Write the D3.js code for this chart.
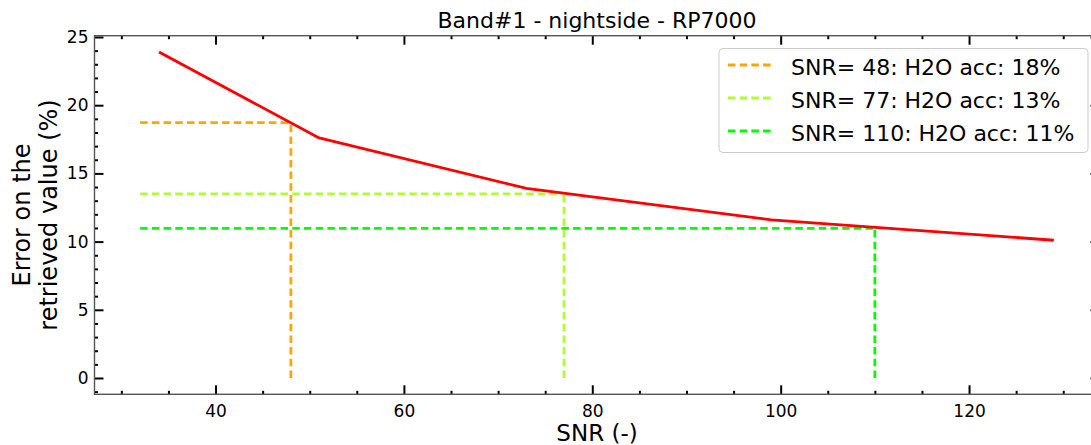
<!DOCTYPE html>
<html>
<head>
<meta charset="utf-8">
<script src="https://cdn.jsdelivr.net/npm/d3@7"></script>
<style>
  html, body { margin: 0; padding: 0; background: #fff; }
  svg { display: block; font-family: "DejaVu Sans", sans-serif; }
</style>
</head>
<body>
<svg id="chart" width="1091" height="445"></svg>
<script>
// Retrieval error curve versus SNR
const snr = [34, 51, 73, 99, 129];
const err = [23.9, 17.6, 13.9, 11.6, 10.1];

// Selected operating points (SNR, error read on the curve)
const markSnr = [48, 77, 110];
const markErr = [18.72, 13.5, 10.97];
const markColors = ["#FFA500", "#ADFF2F", "#00FF00"];
const markLabels = [
  "SNR= 48: H2O acc: 18%",
  "SNR= 77: H2O acc: 13%",
  "SNR= 110: H2O acc: 11%"
];
const guideStart = 32;

const xMajor = [40, 60, 80, 100, 120];
const yMajor = [0, 5, 10, 15, 20, 25];

const svg = d3.select("#chart");
const L = 94.5, R = 1099.5, T = 35.7, B = 394.3;

// padded domains (5% on each side of the data range)
const xMin = guideStart, xMax = d3.max(snr);
const xPad = (xMax - xMin) * 0.05;
const yMin = 0, yMax = d3.max(err);
const yPad = (yMax - yMin) * 0.05;

const x = d3.scaleLinear().domain([xMin - xPad, xMax + xPad]).range([L, R]);
const y = d3.scaleLinear().domain([yMin - yPad, yMax + yPad]).range([B, T]);

const clipId = "plotclip";
svg.append("defs").append("clipPath").attr("id", clipId)
  .append("rect").attr("x", L).attr("y", T).attr("width", R - L).attr("height", B - T);

const plot = svg.append("g").attr("clip-path", `url(#${clipId})`);

const DASH = "7.5,4.2";
const DASH_W = 2.8;

// guide lines for the selected points
markSnr.forEach((s, i) => {
  const g = plot.append("g");
  g.append("line")
    .attr("x1", x(guideStart)).attr("x2", x(s))
    .attr("y1", y(markErr[i])).attr("y2", y(markErr[i]))
    .attr("stroke", markColors[i]).attr("stroke-width", DASH_W)
    .attr("stroke-dasharray", DASH);
  g.append("line")
    .attr("x1", x(s)).attr("x2", x(s))
    .attr("y1", y(0)).attr("y2", y(markErr[i]))
    .attr("stroke", markColors[i]).attr("stroke-width", DASH_W)
    .attr("stroke-dasharray", DASH);
});

// error curve
plot.append("path")
  .datum(snr.map((s, i) => [s, err[i]]))
  .attr("fill", "none")
  .attr("stroke", "#FF0000")
  .attr("stroke-width", 2.8)
  .attr("stroke-linejoin", "round")
  .attr("d", d3.line().x(d => x(d[0])).y(d => y(d[1])));

// axes with inward ticks on all four sides
const xMinor = d3.range(30, 135, 5).filter(v => !xMajor.includes(v));
const yMinor = d3.range(-1, 26, 1).filter(v => !yMajor.includes(v));

function styleAxis(g) {
  g.select(".domain").remove();
  g.selectAll(".tick line").attr("stroke", "#000").attr("stroke-width", 2);
  g.selectAll("text").attr("font-family", "DejaVu Sans, sans-serif").attr("font-size", 17).attr("fill", "#000");
}

// bottom
svg.append("g").attr("transform", `translate(0,${B})`)
  .call(d3.axisTop(x).tickValues(xMajor).tickSize(9).tickFormat(""))
  .call(styleAxis);
svg.append("g").attr("transform", `translate(0,${B})`)
  .call(d3.axisTop(x).tickValues(xMinor).tickSize(3.5).tickFormat(""))
  .call(styleAxis);
svg.append("g").attr("transform", `translate(0,${B})`)
  .call(d3.axisBottom(x).tickValues(xMajor).tickSize(0).tickPadding(7).tickFormat(d3.format("d")))
  .call(styleAxis)
  .selectAll("text").attr("dy", "0.9em");
// top
svg.append("g").attr("transform", `translate(0,${T})`)
  .call(d3.axisBottom(x).tickValues(xMajor).tickSize(9).tickFormat(""))
  .call(styleAxis);
svg.append("g").attr("transform", `translate(0,${T})`)
  .call(d3.axisBottom(x).tickValues(xMinor).tickSize(3.5).tickFormat(""))
  .call(styleAxis);
// left
svg.append("g").attr("transform", `translate(${L},0)`)
  .call(d3.axisRight(y).tickValues(yMajor).tickSize(9).tickFormat(""))
  .call(styleAxis);
svg.append("g").attr("transform", `translate(${L},0)`)
  .call(d3.axisRight(y).tickValues(yMinor).tickSize(3.5).tickFormat(""))
  .call(styleAxis);
svg.append("g").attr("transform", `translate(${L},0)`)
  .call(d3.axisLeft(y).tickValues(yMajor).tickSize(0).tickPadding(6).tickFormat(d3.format("d")))
  .call(styleAxis);
// right
svg.append("g").attr("transform", `translate(${R},0)`)
  .call(d3.axisLeft(y).tickValues(yMajor).tickSize(9).tickFormat(""))
  .call(styleAxis);
svg.append("g").attr("transform", `translate(${R},0)`)
  .call(d3.axisLeft(y).tickValues(yMinor).tickSize(3.5).tickFormat(""))
  .call(styleAxis);

// frame
svg.append("rect")
  .attr("x", L).attr("y", T).attr("width", R - L).attr("height", B - T)
  .attr("fill", "none").attr("stroke", "#555").attr("stroke-width", 1.4);

// title and axis labels
const cx = (L + R) / 2;
svg.append("text").attr("x", cx).attr("y", 28)
  .attr("text-anchor", "middle").attr("font-size", 22).attr("fill", "#000")
  .text("Band#1 - nightside - RP7000");
svg.append("text").attr("x", cx).attr("y", 441)
  .attr("text-anchor", "middle").attr("font-size", 23).attr("fill", "#000")
  .text("SNR (-)");
const yl = svg.append("text")
  .attr("transform", `translate(0,${(T + B) / 2}) rotate(-90)`)
  .attr("text-anchor", "middle").attr("font-size", 24).attr("fill", "#000");
yl.append("tspan").attr("x", 0).attr("y", 30).text("Error on the");
yl.append("tspan").attr("x", 0).attr("y", 57).text("retrieved value (%)");

// legend
const lg = svg.append("g");
lg.append("rect")
  .attr("x", 719).attr("y", 48.5).attr("width", 369).attr("height", 104)
  .attr("rx", 4).attr("fill", "#fff").attr("fill-opacity", 0.85)
  .attr("stroke", "#cccccc").attr("stroke-width", 1);
markLabels.forEach((lab, i) => {
  const ly = 65 + i * 33;
  lg.append("line")
    .attr("x1", 728).attr("x2", 772).attr("y1", ly).attr("y2", ly)
    .attr("stroke", markColors[i]).attr("stroke-width", DASH_W)
    .attr("stroke-dasharray", DASH);
  lg.append("text").attr("x", 791).attr("y", ly + 9.5)
    .attr("font-size", 22).attr("fill", "#000").text(lab);
});
</script>
</body>
</html>
